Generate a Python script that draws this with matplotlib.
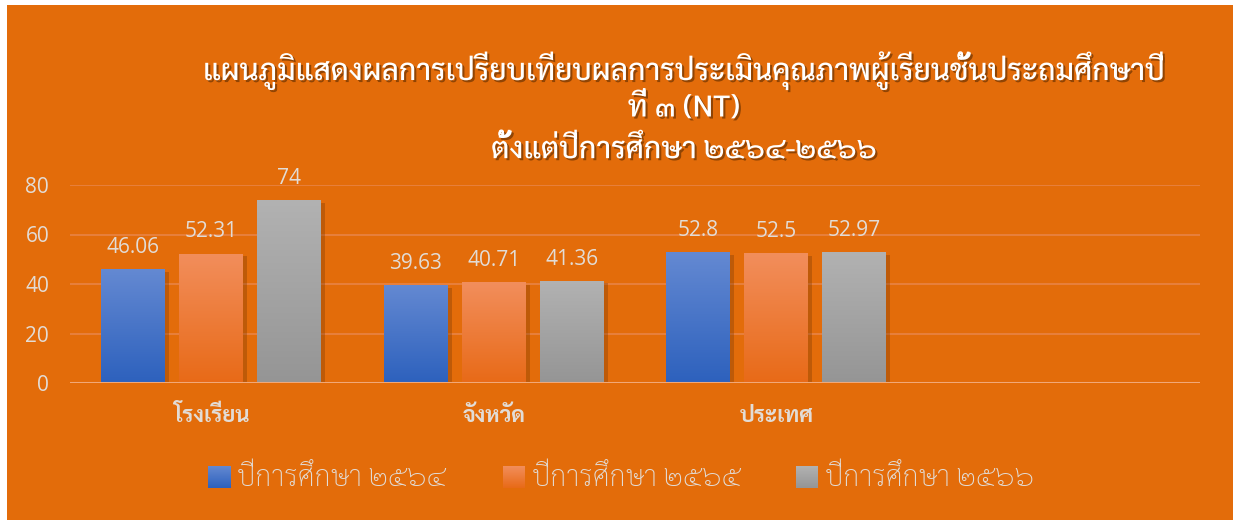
import matplotlib
matplotlib.use("Agg")
import matplotlib.pyplot as plt
import matplotlib.patheffects as pe
from matplotlib.patches import Rectangle
import numpy as np

categories = ["โรงเรียน", "จังหวัด", "ประเทศ", ""]
series_names = ["ปีการศึกษา ๒๕๖๔", "ปีการศึกษา ๒๕๖๕", "ปีการศึกษา ๒๕๖๖"]
v2564 = [46.06, 39.63, 52.8]
v2565 = [52.31, 40.71, 52.5]
v2566 = [74, 41.36, 52.97]
value_labels = [["46.06", "39.63", "52.8"], ["52.31", "40.71", "52.5"], ["74", "41.36", "52.97"]]
yticks = [0, 20, 40, 60, 80]
title_lines = ["แผนภูมิแสดงผลการเปรียบเทียบผลการประเมินคุณภาพผู้เรียนชั้นประถมศึกษาปี",
               "ที่ ๓ (NT)",
               "ตั้งแต่ปีการศึกษา ๒๕๖๔-๒๕๖๖"]

BG = "#E36C0A"
TXT = "#E2DCD6"
grad = [("#6489D2", "#2D61BD"), ("#F28E5C", "#E86A17"), ("#B2B2B2", "#959595")]
NUM_FONT = ["Open Sans", "Sarabun"]
THAI_FONT = ["Sarabun", "DejaVu Sans"]

W, H = 1233, 520
fig = plt.figure(figsize=(W / 100, H / 100), dpi=100)
fig.patch.set_facecolor("white")
fig.patches.append(Rectangle((7 / W, 0), 1, (H - 5) / H, transform=fig.transFigure,
                             facecolor=BG, edgecolor="none", zorder=-5))

ax = fig.add_axes([70 / W, 137 / H, 1130 / W, 198 / H])
ax.set_zorder(1)
ax.set_facecolor("none")
ax.set_xlim(-0.5, 3.5)
ax.set_ylim(0, 80)
for s in ax.spines.values():
    s.set_visible(False)
ax.set_yticks(yticks)
ax.set_yticklabels([str(t) for t in yticks], fontfamily=NUM_FONT, fontsize=15, color=TXT)
ax.tick_params(axis="y", length=0, pad=15)
ax.set_xticks([])
for t in yticks[1:]:
    ax.axhline(t, color="#E98446", lw=1.2, zorder=1)
ax.axhline(0, color="#F1A878", lw=2.2, zorder=4)

bw = 64 / 282.5
off = 78 / 282.5
xs = np.arange(3)
allvals = [v2564, v2565, v2566]
g = np.linspace(0, 1, 256).reshape(-1, 1)


def grad_img(i):
    c0 = np.array(matplotlib.colors.to_rgb(grad[i][0]))
    c1 = np.array(matplotlib.colors.to_rgb(grad[i][1]))
    return c0[None, None, :] * (1 - g[:, :, None]) + c1[None, None, :] * g[:, :, None]


for i, vals in enumerate(allvals):
    bars = ax.bar(xs + (i - 1) * off, vals, width=bw, color=grad[i][1], zorder=2,
                  path_effects=[pe.SimplePatchShadow(offset=(3, -2), shadow_rgbFace="#7a3a05", alpha=0.35),
                                pe.Normal()])
    img = grad_img(i)
    for b, lab in zip(bars, value_labels[i]):
        x0, y0, w, h = b.get_x(), b.get_y(), b.get_width(), b.get_height()
        im = ax.imshow(img, extent=(x0, x0 + w, y0, y0 + h), aspect="auto", zorder=3,
                       origin="upper", interpolation="bilinear")
        im.set_clip_path(b)
        ax.annotate(lab, (x0 + w / 2, y0 + h), xytext=(0, 8), textcoords="offset points",
                    ha="center", va="bottom", fontsize=15, color=TXT, fontfamily=NUM_FONT,
                    annotation_clip=False)

for j, c in enumerate(categories):
    if c:
        ax.text(j, -13.5, c, ha="center", va="center", fontsize=16, fontweight="bold",
                color=TXT, fontfamily=THAI_FONT, clip_on=False)

ax.set_xlim(-0.5, 3.5)
ax.set_ylim(0, 80)

# title
shadow = [pe.withSimplePatchShadow(offset=(1.5, -1.5), shadow_rgbFace="#5a2a00", alpha=0.6)]
ty = [70, 108, 150]
for line, y in zip(title_lines, ty):
    fig.text(684 / W, 1 - y / H, line, ha="center", va="center", fontsize=21.5,
             fontweight="medium", color="white", fontfamily=THAI_FONT, path_effects=shadow)

# legend
lx = [208, 503, 796]
for i, name in enumerate(series_names):
    lax = fig.add_axes([lx[i] / W, 1 - 488 / H, 22 / W, 22 / H])
    lax.imshow(grad_img(i), aspect="auto", extent=(0, 1, 0, 1), interpolation="bilinear")
    lax.set_axis_off()
    fig.text((lx[i] + 29) / W, 1 - 478 / H, name, ha="left", va="center", fontsize=20.7,
             fontweight="light", color=TXT, fontfamily=THAI_FONT)

fig.savefig("out.png", dpi=100, facecolor=fig.get_facecolor())
